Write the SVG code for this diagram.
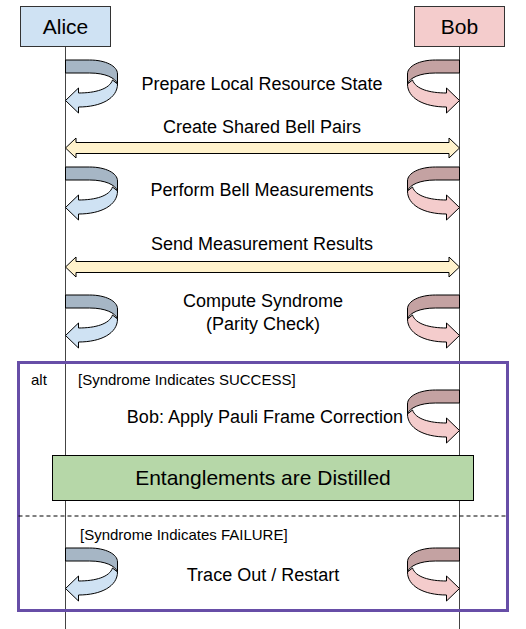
<svg xmlns="http://www.w3.org/2000/svg" width="526" height="629" viewBox="0 0 526 629">
  <style>
    text { font-family: "Liberation Sans", Arial, sans-serif; fill: #000; }
    .lbl { font-size: 18px; text-anchor: middle; }
    .hdr { font-size: 21px; text-anchor: middle; }
    .small { font-size: 15px; }
    .life { stroke: #444; stroke-width: 1; fill: none; }
    .ab { fill: #a6b6c5; stroke: #000; stroke-width: 1; stroke-linejoin: round; }
    .af { fill: #cfe2f3; stroke: #000; stroke-width: 1; stroke-linejoin: miter; }
    .bb { fill: #c4a2a2; stroke: #000; stroke-width: 1; stroke-linejoin: round; }
    .bf { fill: #f4cccc; stroke: #000; stroke-width: 1; stroke-linejoin: miter; }
    .dbl { fill: #fff2cc; stroke: #000; stroke-width: 1; }
  </style>
  <defs>
    <path id="backBand" d="M0,0 H24 C40,0 52,6 52,14 V24 C50,18 40,13 24,13 H0 Z"/>
    <path id="frontBand" d="M47,20 C44,29 30,33 13,33 V28 L0,40.5 L13,53 V47 C36,47 52,38 52,24 Z"/>
  </defs>
  <rect width="526" height="629" fill="#fff"/>

  <!-- lifelines -->
  <g id="lifelines">
    <line class="life" x1="65.5" y1="46" x2="65.5" y2="629"/>
    <line class="life" x1="459.5" y1="46" x2="459.5" y2="629"/>
  </g>

  <g id="alice">
    <rect x="20.5" y="6.5" width="90" height="40" fill="#cfe2f3" stroke="#333"/>
    <text class="hdr" x="65.5" y="34">Alice</text>
  </g>
  <g id="bob">
    <rect x="414.5" y="6.5" width="90" height="40" fill="#f4cccc" stroke="#333"/>
    <text class="hdr" x="459.5" y="34">Bob</text>
  </g>

  <g id="connectors">
    <!-- step 1 self arrows -->
    <g transform="translate(65.5,60)"><use href="#backBand" class="ab"/><use href="#frontBand" class="af"/></g>
    <g transform="translate(459.5,60) scale(-1,1)"><use href="#backBand" class="bb"/><use href="#frontBand" class="bf"/></g>
    <!-- step 2 double arrow -->
    <polygon class="dbl" points="65.5,148 76,138 76,142.5 449,142.5 449,138 459.5,148 449,158 449,153.5 76,153.5 76,158"/>
    <!-- step 3 -->
    <g transform="translate(65.5,167)"><use href="#backBand" class="ab"/><use href="#frontBand" class="af"/></g>
    <g transform="translate(459.5,167) scale(-1,1)"><use href="#backBand" class="bb"/><use href="#frontBand" class="bf"/></g>
    <!-- step 4 double arrow -->
    <polygon class="dbl" points="65.5,267 76,257 76,261.5 449,261.5 449,257 459.5,267 449,277 449,272.5 76,272.5 76,277"/>
    <!-- step 5 -->
    <g transform="translate(65.5,295)"><use href="#backBand" class="ab"/><use href="#frontBand" class="af"/></g>
    <g transform="translate(459.5,295) scale(-1,1)"><use href="#backBand" class="bb"/><use href="#frontBand" class="bf"/></g>
    <!-- alt success: Bob -->
    <g transform="translate(459.5,390) scale(-1,1)"><use href="#backBand" class="bb"/><use href="#frontBand" class="bf"/></g>
    <!-- alt failure -->
    <g transform="translate(65.5,548)"><use href="#backBand" class="ab"/><use href="#frontBand" class="af"/></g>
    <g transform="translate(459.5,548) scale(-1,1)"><use href="#backBand" class="bb"/><use href="#frontBand" class="bf"/></g>
  </g>

  <g id="labels">
    <text class="lbl" x="262" y="90">Prepare Local Resource State</text>
    <text class="lbl" x="262" y="133">Create Shared Bell Pairs</text>
    <text class="lbl" x="262" y="196">Perform Bell Measurements</text>
    <text class="lbl" x="262" y="250">Send Measurement Results</text>
    <text class="lbl" x="263" y="307">Compute Syndrome</text>
    <text class="lbl" x="263" y="330">(Parity Check)</text>
    <text class="lbl" x="403" y="423" style="text-anchor:end">Bob: Apply Pauli Frame Correction</text>
    <text class="lbl" x="263" y="581">Trace Out / Restart</text>
  </g>

  <g id="distilled">
    <rect x="52.5" y="455.5" width="421" height="45" fill="#b6d7a8" stroke="#000"/>
    <text class="hdr" x="263" y="485">Entanglements are Distilled</text>
  </g>

  <g id="alt-frame">
    <rect x="18.5" y="362.5" width="489" height="248" fill="none" stroke="#674ea7" stroke-width="3"/>
    <line x1="18.5" y1="516" x2="507.5" y2="516" stroke="#000" stroke-width="1" stroke-dasharray="4,3"/>
    <text class="small" x="31" y="385">alt</text>
    <text class="small" x="78" y="385">[Syndrome Indicates SUCCESS]</text>
    <text class="small" x="80" y="540">[Syndrome Indicates FAILURE]</text>
  </g>
</svg>
